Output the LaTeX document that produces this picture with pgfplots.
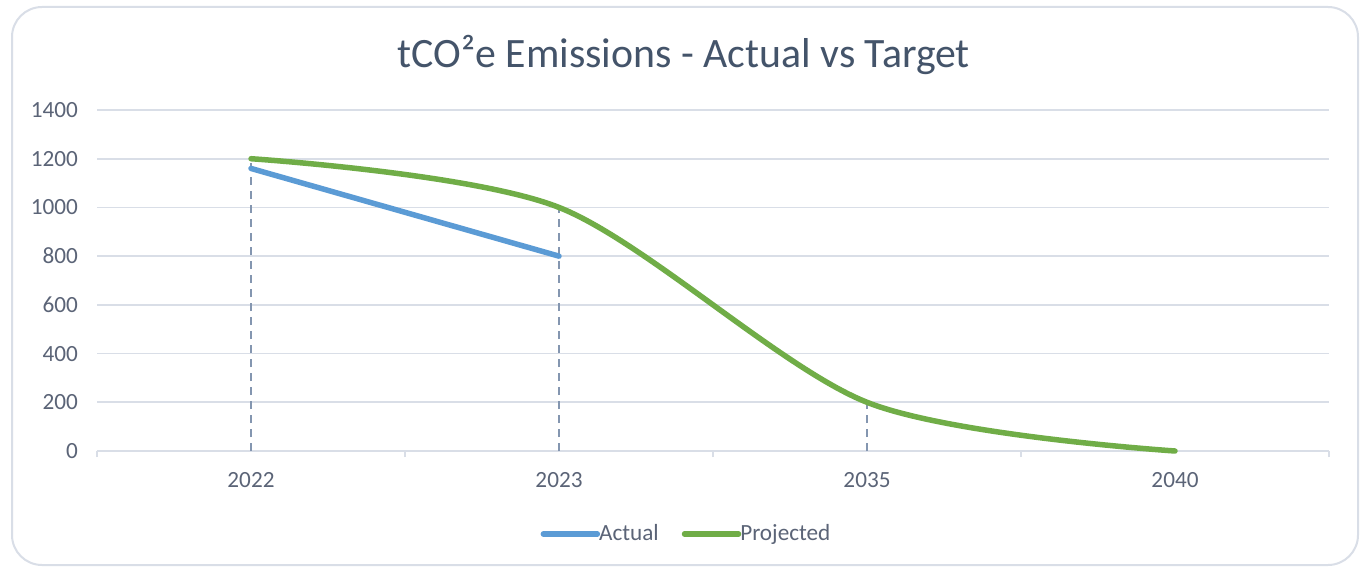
\documentclass[border=0pt]{standalone}
\usepackage{fontspec}
\setmainfont{Carlito}
\usepackage{pgfplots}
\pgfplotsset{compat=1.18}
\definecolor{gridc}{HTML}{D9DEE7}
\definecolor{tickc}{HTML}{5B6477}
\definecolor{titlec}{HTML}{44546A}
\definecolor{dropc}{HTML}{8496B0}
\definecolor{actc}{HTML}{5B9BD5}
\definecolor{projc}{HTML}{70AD47}
\begin{document}
\begin{tikzpicture}
\useasboundingbox (0,0) rectangle (682pt,284pt);
\draw[gridc, line width=1pt, rounded corners=15pt, fill=white] (6pt,1.5pt) rectangle (679pt,280.5pt);
\node[text=titlec, font=\fontsize{20.9}{24}\selectfont] at (342pt,256.3pt) {tCO²e Emissions - Actual vs Target};
\begin{axis}[
  at={(48.5pt,58.5pt)}, anchor=south west,
  scale only axis, width=616pt, height=170.5pt,
  clip=false,
  xmin=-0.5, xmax=3.5, ymin=0, ymax=1400,
  xtick={0,1,2,3}, xticklabels={2022,2023,2035,2040},
  minor xtick={-0.5,0.5,1.5,2.5,3.5},
  ytick={0,200,...,1400},
  major tick length=0pt, minor tick length=3pt,
  tick align=outside,
  minor tick style={gridc, line width=0.9pt},
  ymajorgrids, grid style={gridc, line width=0.9pt},
  axis x line*=bottom, axis y line*=left,
  x axis line style={gridc, line width=1pt, -},
  y axis line style={draw=none},
  tick label style={text=tickc, font=\fontsize{11.6}{14}\selectfont},
  yticklabel style={xshift=-6pt},
  xticklabel style={yshift=-7pt},
  /pgf/number format/assume math mode=true,
  /pgf/number format/1000 sep={},
  legend columns=2,
  legend style={at={(axis description cs:0.4793,-0.2434)}, anchor=center, draw=none, fill=none,
    font=\fontsize{11.6}{14}\selectfont, text=tickc,
    /tikz/every odd column/.append style={column sep=-2.5pt},
    /tikz/every even column/.append style={column sep=9.5pt}, inner sep=0pt},
  legend image code/.code={\draw[#1, line width=2.75pt, line cap=round] (0pt,0pt) -- (27pt,0pt);},
]
\addplot[ycomb, dropc, line width=0.8pt, dash pattern=on 4pt off 3pt, forget plot] coordinates {(0,1200)(1,1000)(2,200)};
\addplot[actc, line width=2.75pt, line cap=round] coordinates {(0,1160)(1,800)};
\addplot[projc, line width=2.75pt, line cap=round, smooth] coordinates {(0,1200)(1,1000)(2,200)(3,0)};
\legend{Actual,Projected}
\end{axis}
\end{tikzpicture}
\end{document}
